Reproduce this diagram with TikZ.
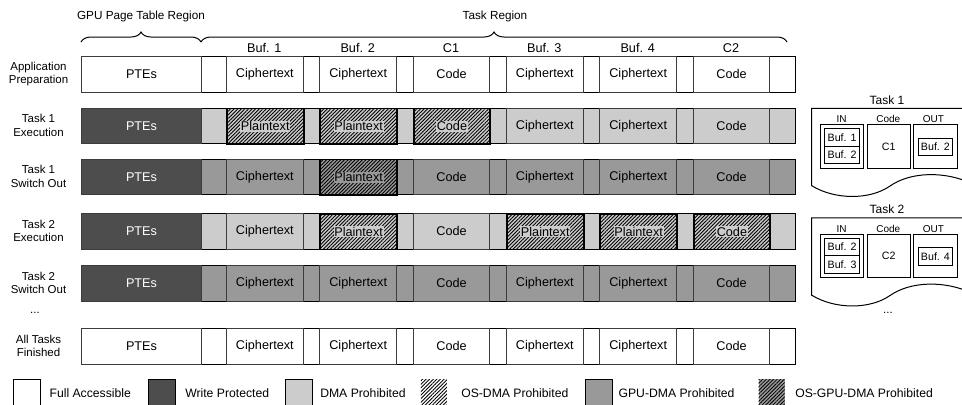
\documentclass[tikz,border=0pt]{standalone}
\usepackage{fontspec}
\setmainfont{Liberation Sans}
\usetikzlibrary{patterns.meta,decorations.pathreplacing}
\definecolor{dk}{RGB}{77,77,77}
\definecolor{lt}{RGB}{204,204,204}
\definecolor{md}{RGB}{153,153,153}
\definecolor{sepc}{RGB}{60,60,60}
\newcommand\hatchcell[5]{%
  \node[hcell, fill=#4] (#1) at ({226+93.333*#2},#3) {};
  \node[htext, fill=#4] (#1t) at (#1.center) {#5};}
\begin{document}
\begin{tikzpicture}[x=0.75pt,y=-0.75pt,
  hatchpat/.style={postaction={pattern={Lines[angle=45,distance=1.9pt,line width=0.65pt]}}},
  rowframe/.style={draw=black, line width=0.75pt, anchor=north west, minimum width=535.5pt, minimum height=26.625pt, inner sep=0pt},
  ptecell/.style={draw=sepc, line width=0.75pt, anchor=north west, minimum width=90pt, minimum height=26.625pt, inner sep=0pt, font=\fontsize{9.5}{11}\selectfont},
  bufcell/.style={draw=sepc, line width=0.75pt, anchor=north west, minimum width=57.5pt, minimum height=26.625pt, inner sep=0pt, font=\fontsize{9.5}{11}\selectfont},
  hcell/.style={bufcell, draw=black, line width=1.4pt, hatchpat},
  htext/.style={inner sep=0.6pt, font=\fontsize{9.5}{11}\selectfont},
  rowlab/.style={align=center, inner sep=0pt, font=\fontsize{8.6}{10}\selectfont},
  colhdr/.style={inner sep=0pt, font=\fontsize{9.5}{11}\selectfont},
  regtitle/.style={inner sep=0pt, font=\fontsize{8.8}{10}\selectfont},
  bracepath/.style={decorate, decoration={brace, amplitude=7.5pt}, line width=0.75pt},
  docshape/.style={draw=black, line width=0.75pt, fill=white},
  tasktitle/.style={inner sep=0pt, font=\fontsize{9}{10}\selectfont},
  tsmall/.style={inner sep=0pt, font=\fontsize{7.5}{9}\selectfont},
  tbox/.style={draw=black, line width=0.6pt, anchor=north west, inner sep=0pt, font=\fontsize{8}{9}\selectfont},
  legbox/.style={draw=black, line width=0.6pt, anchor=north west, minimum width=19.9pt, minimum height=21pt, inner sep=0pt},
  leghatch/.style={anchor=north west, minimum width=19.5pt, minimum height=21pt, inner sep=0pt, hatchpat},
  legtext/.style={anchor=west, inner sep=0pt, font=\fontsize{9.15}{11}\selectfont},
]
\useasboundingbox (0,0) rectangle (962,404);
\clip (0,0) rectangle (962,404);

% titles and braces
\node[regtitle] (gtitle) at (141,16) {GPU Page Table Region};
\node[regtitle] (ttitle) at (495,16) {Task Region};
\coordinate (ba) at (81,42);
\coordinate (bb) at (201,42);
\coordinate (bc) at (787,42);
\draw[bracepath] (ba) -- (bb);
\draw[bracepath] (bb) -- (bc);

% column headers
\foreach \i/\t in {0/Buf. 1,1/Buf. 2,2/C1,3/Buf. 3,4/Buf. 4,5/C2}
  \node[colhdr] (hdr\i) at ({264.33+93.333*\i},48.3) {\t};

% row labels
\node[rowlab] (l1) at (38.5,73.75) {Application\\Preparation};
\node[rowlab] (l2) at (38.5,125.25) {Task 1\\Execution};
\node[rowlab] (l3) at (38.5,176.25) {Task 1\\Switch Out};
\node[rowlab] (l4) at (38.5,230.75) {Task 2\\Execution};
\node[rowlab] (l5) at (38.5,282.75) {Task 2\\Switch Out};
\node[rowlab] (ldots) at (35,313) {...};
\node[rowlab] (l6) at (38.5,345.75) {All Tasks\\Finished};

% Row 1
\node[rowframe, fill=white] (r1) at (81,56) {};
\node[ptecell, fill=white] (r1p) at (81,56) {PTEs};
\foreach \i/\t in {0/Ciphertext,1/Ciphertext,2/Code,3/Ciphertext,4/Ciphertext,5/Code}
  \node[bufcell, fill=white] (r1b\i) at ({226+93.333*\i},56) {\t};

% Row 2
\node[rowframe, fill=lt] (r2) at (81,107.5) {};
\node[ptecell, fill=dk, text=white] (r2p) at (81,107.5) {PTEs};
\foreach \i/\t in {3/Ciphertext,4/Ciphertext,5/Code}
  \node[bufcell, fill=lt] (r2b\i) at ({226+93.333*\i},107.5) {\t};
\hatchcell{r2b0}{0}{107.5}{lt}{Plaintext}
\hatchcell{r2b1}{1}{107.5}{lt}{Plaintext}
\hatchcell{r2b2}{2}{107.5}{lt}{Code}

% Row 3
\node[rowframe, fill=md] (r3) at (81,158.5) {};
\node[ptecell, fill=dk, text=white] (r3p) at (81,158.5) {PTEs};
\foreach \i/\t in {0/Ciphertext,2/Code,3/Ciphertext,4/Ciphertext,5/Code}
  \node[bufcell, fill=md] (r3b\i) at ({226+93.333*\i},158.5) {\t};
\hatchcell{r3b1}{1}{158.5}{md}{Plaintext}

% Row 4
\node[rowframe, fill=lt] (r4) at (81,213) {};
\node[ptecell, fill=dk, text=white] (r4p) at (81,213) {PTEs};
\foreach \i/\t in {0/Ciphertext,2/Code}
  \node[bufcell, fill=lt] (r4b\i) at ({226+93.333*\i},213) {\t};
\hatchcell{r4b1}{1}{213}{lt}{Plaintext}
\hatchcell{r4b3}{3}{213}{lt}{Plaintext}
\hatchcell{r4b4}{4}{213}{lt}{Plaintext}
\hatchcell{r4b5}{5}{213}{lt}{Code}

% Row 5
\node[rowframe, fill=md] (r5) at (81,265) {};
\node[ptecell, fill=dk, text=white] (r5p) at (81,265) {PTEs};
\foreach \i/\t in {0/Ciphertext,1/Ciphertext,2/Code,3/Ciphertext,4/Ciphertext,5/Code}
  \node[bufcell, fill=md] (r5b\i) at ({226+93.333*\i},265) {\t};

% Row 6
\node[rowframe, fill=white] (r6) at (81,328) {};
\node[ptecell, fill=white] (r6p) at (81,328) {PTEs};
\foreach \i/\t in {0/Ciphertext,1/Ciphertext,2/Code,3/Ciphertext,4/Ciphertext,5/Code}
  \node[bufcell, fill=white] (r6b\i) at ({226+93.333*\i},328) {\t};

% Right panel: tasks
\foreach \k/\off/\ba/\bb/\cc/\oo in {1/0/Buf. 1/Buf. 2/C1/Buf. 2, 2/109.5/Buf. 2/Buf. 3/C2/Buf. 4}{
  \begin{scope}[shift={(0,\off)}]
    \draw[docshape] (811.7,185.7) .. controls (835,200) and (870,200) .. (890,186)
      .. controls (910,172) and (945,170) .. (975,185) -- (975,108.3) -- (811.7,108.3) -- cycle;
    \node[tasktitle] (task\k) at (887,100) {Task \k};
    \node[tsmall] (tin\k) at (841.7,119.3) {IN};
    \node[tsmall] (tcode\k) at (888.3,119.3) {Code};
    \node[tsmall] (tout\k) at (933.3,119.3) {OUT};
    \node[tbox, minimum width=32.5pt, minimum height=32.5pt] (inbox\k) at (820,124.3) {};
    \node[tbox, minimum width=32.5pt, minimum height=32.5pt] (codebox\k) at (866.7,124.3) {\cc};
    \node[tbox, minimum width=32.5pt, minimum height=32.5pt] (outbox\k) at (913.3,124.3) {};
    \node[tbox, minimum width=26.5pt, minimum height=13.1pt] (ina\k) at (824,128.3) {\ba};
    \node[tbox, minimum width=26.5pt, minimum height=13.1pt] (inb\k) at (824,145.7) {\bb};
    \node[tbox, minimum width=25pt, minimum height=13pt] (outa\k) at (918.3,137.7) {\oo};
  \end{scope}
}
\node[rowlab] (rdots) at (888,313) {...};

% Legend
\node[legbox, fill=white] (lg1) at (13.3,379) {};
\node[legtext] (lt1) at (49.3,392.7) {Full Accessible};
\node[legbox, fill=dk] (lg2) at (148.3,379) {};
\node[legtext] (lt2) at (185,392.7) {Write Protected};
\node[legbox, fill=lt] (lg3) at (285,379) {};
\node[legtext] (lt3) at (320,392.7) {DMA Prohibited};
\node[leghatch, fill=white] (lg4) at (420.7,379) {};
\node[legtext] (lt4) at (461,392.7) {OS-DMA Prohibited};
\node[legbox, fill=md] (lg5) at (585,379) {};
\node[legtext] (lt5) at (618.3,392.7) {GPU-DMA Prohibited};
\node[leghatch, fill=md] (lg6) at (758.3,379) {};
\node[legtext] (lt6) at (795,392.7) {OS-GPU-DMA Prohibited};
\end{tikzpicture}
\end{document}
